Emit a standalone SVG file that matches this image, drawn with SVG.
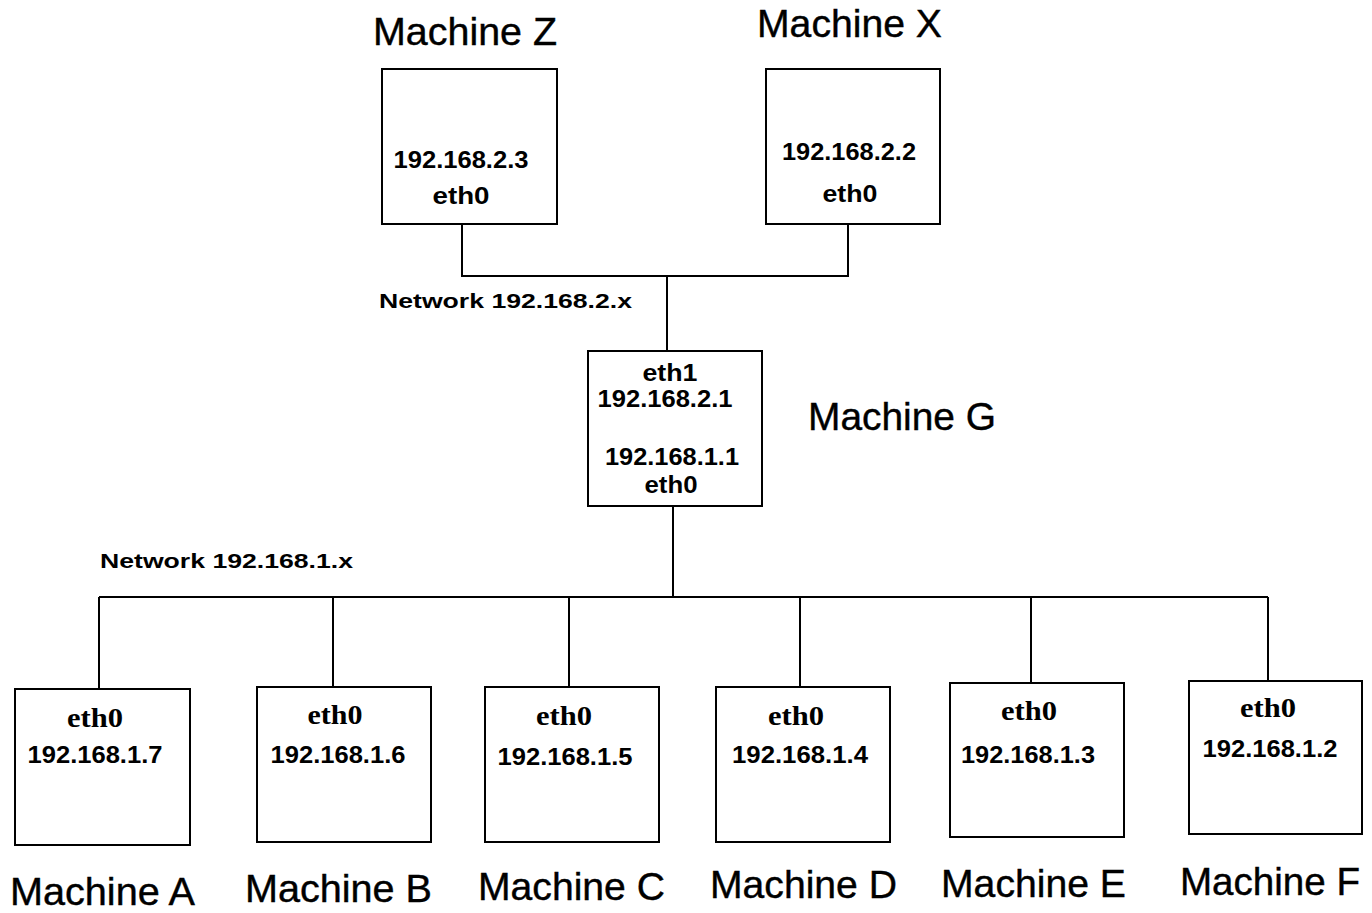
<svg xmlns="http://www.w3.org/2000/svg" width="1372" height="913" viewBox="0 0 1372 913">
<style>
.box{fill:#fff;stroke:#000;stroke-width:2}
.wire{fill:none;stroke:#000;stroke-width:2}
.lbl{font-family:"Liberation Sans",Arial,sans-serif;font-size:38px;fill:#000;stroke:#000;stroke-width:0.4}
.ip{font-family:"Liberation Sans",Arial,sans-serif;font-weight:bold;font-size:24px;fill:#000;text-anchor:middle}
.eth{font-family:"Liberation Sans",Arial,sans-serif;font-weight:bold;font-size:24px;fill:#000;text-anchor:middle}
.ethb{font-family:"Liberation Serif","Times New Roman",serif;font-weight:bold;font-size:27px;fill:#000;text-anchor:middle}
.net{font-family:"Liberation Sans",Arial,sans-serif;font-weight:bold;font-size:21px;fill:#000}
</style>
<rect width="1372" height="913" fill="#fff"/>
<g id="connectors">
<path class="wire" d="M462 224V276H848V224M667 276V351"/>
<path class="wire" d="M673 506V597M99 597H1268M99 597V689M333 597V687M569 597V687M800 597V687M1031 597V683M1268 597V681"/>
</g>
<g id="netlabels">
<text class="net" x="379" y="308" textLength="253" lengthAdjust="spacingAndGlyphs">Network 192.168.2.x</text>
<text class="net" x="100" y="568" textLength="253" lengthAdjust="spacingAndGlyphs">Network 192.168.1.x</text>
</g>
<g id="machineZ">
<rect class="box" x="382" y="69" width="175" height="155"/>
<text class="ip" x="461" y="168" textLength="135" lengthAdjust="spacingAndGlyphs">192.168.2.3</text>
<text class="eth" x="461" y="204" textLength="57" lengthAdjust="spacingAndGlyphs">eth0</text>
<text class="lbl" x="373" y="45" textLength="184" lengthAdjust="spacingAndGlyphs">Machine Z</text>
</g>
<g id="machineX">
<rect class="box" x="766" y="69" width="174" height="155"/>
<text class="ip" x="849" y="160" textLength="134" lengthAdjust="spacingAndGlyphs">192.168.2.2</text>
<text class="eth" x="850" y="202" textLength="55" lengthAdjust="spacingAndGlyphs">eth0</text>
<text class="lbl" x="757" y="37" textLength="185" lengthAdjust="spacingAndGlyphs">Machine X</text>
</g>
<g id="machineG">
<rect class="box" x="588" y="351" width="174" height="155"/>
<text class="eth" x="670" y="381" textLength="55" lengthAdjust="spacingAndGlyphs">eth1</text>
<text class="ip" x="665" y="407" textLength="135" lengthAdjust="spacingAndGlyphs">192.168.2.1</text>
<text class="ip" x="672" y="465" textLength="134" lengthAdjust="spacingAndGlyphs">192.168.1.1</text>
<text class="eth" x="671" y="493" textLength="53" lengthAdjust="spacingAndGlyphs">eth0</text>
<text class="lbl" x="808" y="430" textLength="188" lengthAdjust="spacingAndGlyphs">Machine G</text>
</g>
<g id="machineA">
<rect class="box" x="15" y="689" width="175" height="156"/>
<text class="ethb" x="95" y="727" textLength="56" lengthAdjust="spacingAndGlyphs">eth0</text>
<text class="ip" x="95" y="763" textLength="135" lengthAdjust="spacingAndGlyphs">192.168.1.7</text>
<text class="lbl" x="10" y="905" textLength="185" lengthAdjust="spacingAndGlyphs">Machine A</text>
</g>
<g id="machineB">
<rect class="box" x="257" y="687" width="174" height="155"/>
<text class="ethb" x="335" y="724" textLength="55" lengthAdjust="spacingAndGlyphs">eth0</text>
<text class="ip" x="338" y="763" textLength="135" lengthAdjust="spacingAndGlyphs">192.168.1.6</text>
<text class="lbl" x="245" y="902" textLength="187" lengthAdjust="spacingAndGlyphs">Machine B</text>
</g>
<g id="machineC">
<rect class="box" x="485" y="687" width="174" height="155"/>
<text class="ethb" x="564" y="725" textLength="56" lengthAdjust="spacingAndGlyphs">eth0</text>
<text class="ip" x="565" y="765" textLength="135" lengthAdjust="spacingAndGlyphs">192.168.1.5</text>
<text class="lbl" x="478" y="900" textLength="187" lengthAdjust="spacingAndGlyphs">Machine C</text>
</g>
<g id="machineD">
<rect class="box" x="716" y="687" width="174" height="155"/>
<text class="ethb" x="796" y="725" textLength="56" lengthAdjust="spacingAndGlyphs">eth0</text>
<text class="ip" x="800" y="763" textLength="136" lengthAdjust="spacingAndGlyphs">192.168.1.4</text>
<text class="lbl" x="710" y="898" textLength="187" lengthAdjust="spacingAndGlyphs">Machine D</text>
</g>
<g id="machineE">
<rect class="box" x="950" y="683" width="174" height="154"/>
<text class="ethb" x="1029" y="720" textLength="56" lengthAdjust="spacingAndGlyphs">eth0</text>
<text class="ip" x="1028" y="763" textLength="134" lengthAdjust="spacingAndGlyphs">192.168.1.3</text>
<text class="lbl" x="941" y="897" textLength="185" lengthAdjust="spacingAndGlyphs">Machine E</text>
</g>
<g id="machineF">
<rect class="box" x="1189" y="681" width="173" height="153"/>
<text class="ethb" x="1268" y="717" textLength="56" lengthAdjust="spacingAndGlyphs">eth0</text>
<text class="ip" x="1270" y="757" textLength="135" lengthAdjust="spacingAndGlyphs">192.168.1.2</text>
<text class="lbl" x="1180" y="895" textLength="180" lengthAdjust="spacingAndGlyphs">Machine F</text>
</g>
</svg>
